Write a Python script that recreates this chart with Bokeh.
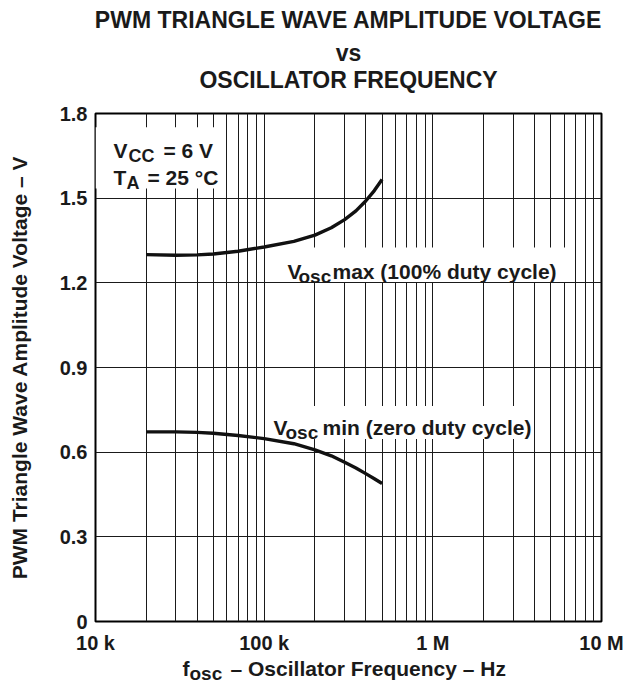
import math
from bokeh.plotting import figure
from bokeh.layouts import column
from bokeh.models import Range1d, FixedTicker, Label, BoxAnnotation
from bokeh.embed import file_html
from bokeh.resources import INLINE

# ---------------- data ----------------
freq_hz = [20e3, 30e3, 40e3, 50e3, 70e3, 100e3, 150e3, 200e3, 250e3, 300e3,
           350e3, 400e3, 450e3, 500e3]
vosc_max = [1.300, 1.298, 1.299, 1.302, 1.312, 1.327, 1.347, 1.369, 1.395, 1.424,
            1.455, 1.490, 1.527, 1.566]
vosc_min = [0.672, 0.672, 0.670, 0.667, 0.659, 0.648, 0.630, 0.608, 0.587, 0.564,
            0.544, 0.524, 0.506, 0.489]

x_major_ticks = [1e4, 1e5, 1e6, 1e7]
x_tick_labels = ["10 k", "100 k", "1 M", "10 M"]
x_grid_ticks = [1e4, 2e4, 3e4, 4e4, 5e4, 6e4, 7e4, 8e4, 9e4,
                1e5, 2e5, 3e5, 4e5, 5e5, 6e5, 7e5, 8e5, 9e5,
                1e6, 2e6, 3e6, 4e6, 5e6, 6e6, 7e6, 8e6, 9e6, 1e7]
y_ticks = [0, 0.3, 0.6, 0.9, 1.2, 1.5, 1.8]
y_tick_labels = ["0", "0.3", "0.6", "0.9", "1.2", "1.5", "1.8"]

title_lines = ["PWM TRIANGLE WAVE AMPLITUDE VOLTAGE", "vs", "OSCILLATOR FREQUENCY"]
y_label = "PWM Triangle Wave Amplitude Voltage \u2013 V"

FONT = "Liberation Sans"
INK = "#1a1a1a"
W = 624
HEAD_H, MAIN_H, FOOT_H = 100, 557, 26
STRIP_SHIFT = 8   # text strips draw their frame 8 px lower than their canvas


def no_align(fig):
    try:
        fig.frame_align = False
    except Exception:
        pass


def label(fig, text, x, y, dx=0, dy=0, size=21, align="left", angle=0.0):
    fig.add_layout(Label(x=x, y=y, x_offset=dx, y_offset=dy, text=text,
                         text_font=FONT, text_font_style="bold",
                         text_font_size=f"{size}px", text_color=INK,
                         text_align=align, text_baseline="alphabetic",
                         angle=angle))


def blank(height, y0, y1):
    # a text-only strip whose data units are the page's pixels
    f = figure(width=W, height=height, x_range=Range1d(0, W), y_range=Range1d(y0, y1),
               output_backend="svg", toolbar_location=None, title=None,
               x_axis_location=None, y_axis_location=None,
               min_border=0, min_border_left=0, min_border_right=0,
               min_border_top=0, min_border_bottom=0)
    f.grid.visible = False
    f.outline_line_color = None
    f.background_fill_color = "white"
    f.border_fill_color = "white"
    no_align(f)
    return f


# ---------------- header (title) ----------------
head = blank(HEAD_H, HEAD_H, 0)
label(head, title_lines[0], 348, 27 - STRIP_SHIFT, size=23, align="center")
label(head, title_lines[1], 348, 60 - STRIP_SHIFT, size=23, align="center")
label(head, title_lines[2], 348, 87 - STRIP_SHIFT, size=23, align="center")

# ---------------- main chart ----------------
p = figure(width=W, height=MAIN_H, x_axis_type="log",
           x_range=Range1d(1e4, 1e7), y_range=Range1d(0, 1.8),
           output_backend="svg", toolbar_location=None, title=None,
           min_border_left=95, min_border_right=23,
           min_border_top=13, min_border_bottom=36)
no_align(p)
p.background_fill_color = "white"
p.border_fill_color = "white"
p.outline_line_color = "black"
p.outline_line_width = 2

p.xgrid.ticker = FixedTicker(ticks=x_grid_ticks)
p.ygrid.ticker = FixedTicker(ticks=y_ticks)
for g in (p.xgrid, p.ygrid):
    g.grid_line_color = INK
    g.grid_line_width = 1
    g.grid_line_alpha = 1.0

p.xaxis.ticker = FixedTicker(ticks=x_major_ticks)
p.xaxis.major_label_overrides = {t: s for t, s in zip(x_major_ticks, x_tick_labels)}
p.yaxis.ticker = FixedTicker(ticks=y_ticks)
p.yaxis.major_label_overrides = {t: s for t, s in zip(y_ticks, y_tick_labels)}
for ax in (p.xaxis, p.yaxis):
    ax.axis_line_color = None
    ax.major_tick_out = 0
    ax.major_tick_in = 0
    ax.minor_tick_out = 0
    ax.minor_tick_in = 0
    ax.major_label_text_font = FONT
    ax.major_label_text_font_style = "bold"
    ax.major_label_text_font_size = "20px"
    ax.major_label_text_color = INK
p.xaxis.major_label_standoff = 10
p.yaxis.major_label_standoff = 8
p.yaxis.axis_label = y_label
p.yaxis.axis_label_text_font = FONT
p.yaxis.axis_label_text_font_style = "bold"
p.yaxis.axis_label_text_font_size = "21px"
p.yaxis.axis_label_text_color = INK
p.yaxis.axis_label_standoff = 26

# white boxes behind the in-plot notes (layout)
note_boxes = [
    dict(left=1.0e4, right=5.8e4, bottom=1.534, top=1.751),
    dict(left=1.03e5, right=6.9e6, bottom=1.203, top=1.325),
    dict(left=1.03e5, right=3.95e6, bottom=0.647, top=0.764),
]
for b in note_boxes:
    p.add_layout(BoxAnnotation(fill_color="white", fill_alpha=1.0, line_color=None,
                               level="underlay", **b))

p.line(freq_hz, vosc_max, line_color="#111111", line_width=3.4)
p.line(freq_hz, vosc_min, line_color="#111111", line_width=3.4)

XL, YT = 1e4, 1.8
label(p, "V", XL, YT, 18, -37)
label(p, "CC", XL, YT, 33, -42, size=18)
label(p, "= 6 V", XL, YT, 68, -37)
label(p, "T", XL, YT, 18, -64)
label(p, "A", XL, YT, 31, -69, size=18)
label(p, "= 25 \u00b0C", XL, YT, 52, -64)

label(p, "V", XL, YT, 192, -158)
label(p, "osc", XL, YT, 203, -163, size=19)
label(p, "max (100% duty cycle)", XL, YT, 237, -158)
label(p, "V", XL, YT, 178, -314)
label(p, "osc", XL, YT, 190, -319, size=19)
label(p, "min (zero duty cycle)", XL, YT, 227, -314)

# ---------------- footer (x-axis title) ----------------
y_foot0 = HEAD_H + MAIN_H
foot = blank(FOOT_H, y_foot0 + FOOT_H, y_foot0)
label(foot, "f", 182, 676 - STRIP_SHIFT)
label(foot, "osc", 189, 681 - STRIP_SHIFT, size=19)
label(foot, "\u2013 Oscillator Frequency \u2013 Hz", 230, 676 - STRIP_SHIFT)

layout = column(head, p, foot, spacing=0)
open("out.html", "w").write(file_html(layout, INLINE))
